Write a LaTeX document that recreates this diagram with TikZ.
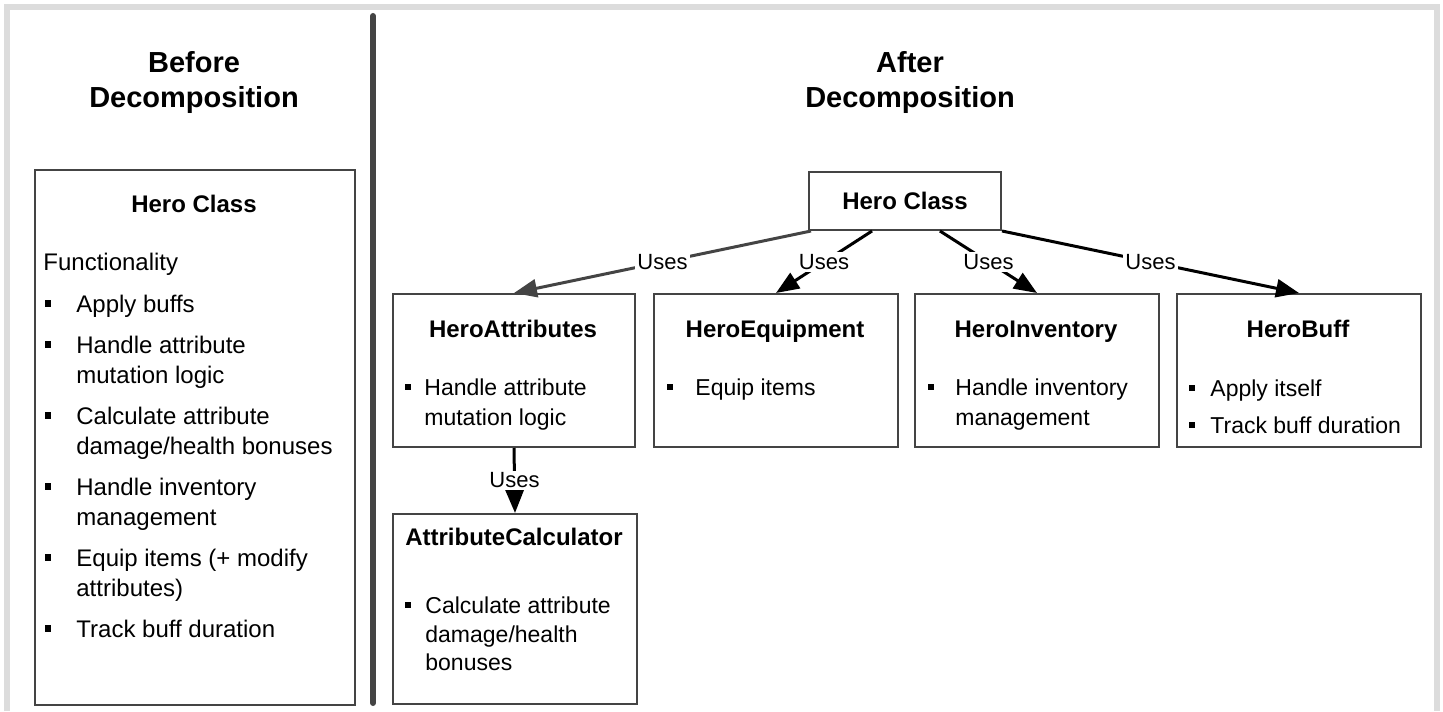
\documentclass[tikz,border=0pt]{standalone}
\usepackage{fontspec}
\setmainfont{Liberation Sans}
\usetikzlibrary{arrows.meta,calc}
\definecolor{boxc}{HTML}{444444}
\definecolor{framec}{HTML}{DCDCDC}
\begin{document}
\begin{tikzpicture}[x=0.5pt,y=-0.5pt,
  box/.style={draw=boxc, line width=1pt, inner sep=0pt, anchor=north west},
  ttl/.style={font=\fontsize{14.5}{17}\selectfont\bfseries, anchor=base, inner sep=0pt},
  hd/.style={font=\fontsize{12}{14}\selectfont\bfseries, anchor=base, inner sep=0pt},
  txt/.style={font=\fontsize{12}{14}\selectfont, anchor=base west, inner sep=0pt},
  stxt/.style={font=\fontsize{11.5}{14}\selectfont, anchor=base west, inner sep=0pt},
  bul/.style={fill=black, inner sep=0pt, minimum size=3.2pt},
  use/.style={line width=1.5pt, -{Triangle[length=11.5pt,width=9pt]}},
  lab/.style={font=\fontsize{11}{12}\selectfont, fill=white, text=black, inner sep=1pt}
]
\useasboundingbox (0,0) rectangle (1443,711);
% outer frame
\draw[framec, line width=3pt] (7,711) -- (7,7.5) -- (1437,7.5) -- (1437,711);
% divider
\draw[boxc, line width=3pt, line cap=round] (373,16) -- (373,703);

% titles
\node[ttl] (bt1) at (194,73) {Before};
\node[ttl] (bt2) at (194,108) {Decomposition};
\node[ttl] (at1) at (910,73) {After};
\node[ttl] (at2) at (910,108) {Decomposition};

% left box
\node[box, minimum width=160pt, minimum height=267.5pt] (lbox) at (34,169) {};
\node[hd] (lhc) at (194,213) {Hero Class};
\node[txt] (lfn) at (43,270) {Functionality};
\foreach \y/\t [count=\i] in {312/{Apply buffs},353/{Handle attribute},383/{mutation logic},424/{Calculate attribute},454/{damage/health bonuses},495/{Handle inventory},525/{management},566/{Equip items (+ modify},596/{attributes)},637/{Track buff duration}}
  \node[txt] (lt\i) at (76,\y) {\t};
\foreach \y [count=\i] in {312,353,424,495,566,637}
  \node[bul] (lb\i) at (48,\y-8.5) {};

% right: top class
\node[box, minimum width=96pt, minimum height=29pt] (hc) at (808,171) {};
\node[hd, anchor=center] (hct) at (hc.center) {Hero Class};

% child boxes
\node[box, minimum width=121pt, minimum height=76.5pt] (ha) at (392,293) {};
\node[box, minimum width=122pt, minimum height=76.5pt] (he) at (653,293) {};
\node[box, minimum width=122pt, minimum height=76.5pt] (hi) at (914,293) {};
\node[box, minimum width=122pt, minimum height=76.5pt] (hb) at (1176,293) {};
\node[box, minimum width=122pt, minimum height=95pt] (ac) at (392,513) {};

% child titles
\node[hd] (hat) at (513,337) {HeroAttributes};
\node[hd] (het) at (775,337) {HeroEquipment};
\node[hd] (hit) at (1036,337) {HeroInventory};
\node[hd] (hbt) at (1298,337) {HeroBuff};
\node[hd] (act) at (514,545) {AttributeCalculator};

% child bullets
\node[bul] (hab) at (408,387) {};
\node[stxt] (ha1) at (424,395) {Handle attribute};
\node[stxt] (ha2) at (424,425) {mutation logic};
\node[bul] (heb) at (670,387) {};
\node[stxt] (he1) at (695,395) {Equip items};
\node[bul] (hib) at (931,387) {};
\node[stxt] (hi1) at (955,395) {Handle inventory};
\node[stxt] (hi2) at (955,425) {management};
\node[bul] (hbb1) at (1192,388) {};
\node[stxt] (hb1) at (1210,396) {Apply itself};
\node[bul] (hbb2) at (1192,425) {};
\node[stxt] (hb2) at (1210,433) {Track buff duration};
\node[bul] (acb) at (408,605) {};
\node[stxt] (ac1) at (425,613) {Calculate attribute};
\node[stxt] (ac2) at (425,642) {damage/health};
\node[stxt] (ac3) at (425,670) {bonuses};

% connectors
\draw[use, boxc] ($(hc.south west)+(3,0)$) -- node[lab] (u1) {Uses} (ha.north);
\draw[use] ($(hc.south west)!0.33!(hc.south east)$) -- node[lab] (u2) {Uses} (he.north);
\draw[use] ($(hc.south west)!0.68!(hc.south east)$) -- node[lab] (u3) {Uses} (hi.north);
\draw[use] (hc.south east) -- node[lab] (u4) {Uses} (hb.north);
\draw[use] (ha.south) -- node[lab] (u5) {Uses} (ac.north);
\end{tikzpicture}
\end{document}
